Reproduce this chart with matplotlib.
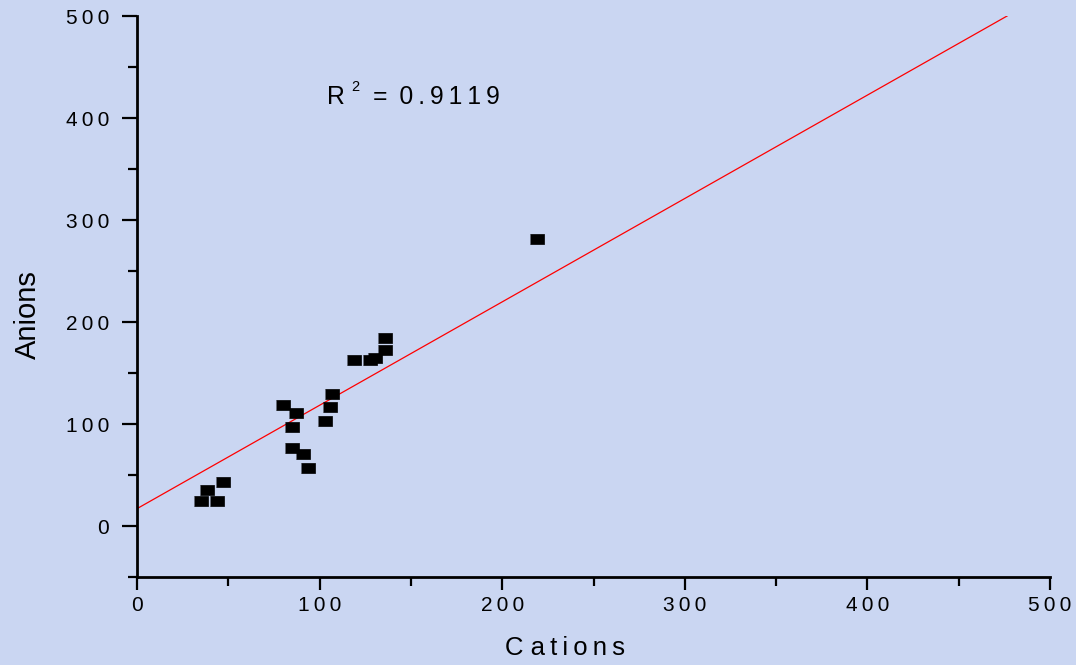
import numpy as np
import matplotlib
matplotlib.use("Agg")
import matplotlib.pyplot as plt
from matplotlib.ticker import MultipleLocator, FixedFormatter, FixedLocator
from matplotlib.transforms import offset_copy

# values
cations = [35.0, 38.2, 43.8, 46.9, 80.0, 86.9, 85.0, 85.0, 91.0, 93.8,
           103.0, 105.9, 106.9, 118.8, 127.6, 130.3, 135.8, 135.8, 218.9]
anions = [25.0, 35.5, 25.0, 43.0, 119.0, 111.0, 97.0, 76.0, 71.0, 57.0,
          103.0, 117.0, 129.0, 163.0, 163.0, 165.0, 184.8, 173.0, 281.0]

# regression line end points
fit_x = [0.0, 476.5]
fit_y = [17.0, 500.0]
r2 = 0.9119

x_ticks = [0, 100, 200, 300, 400, 500]
y_ticks = [0, 100, 200, 300, 400, 500]

bg = "#cad6f2"
font = ["Liberation Sans", "DejaVu Sans"]
plt.rcParams["font.family"] = font


def spaced(s, gap="\u2009"):
    """put a gap between every character, the reference uses wide letter spacing"""
    return gap.join(list(s))


fig = plt.figure(figsize=(10.76, 6.65), dpi=100, facecolor=bg)
ax = fig.add_axes([137 / 1076, 88 / 665, 913 / 1076, 561 / 665])
ax.set_facecolor(bg)

rect = [(-1, -0.77), (1, -0.77), (1, 0.77), (-1, 0.77)]
ax.plot(cations, anions, linestyle="none", marker=rect, markersize=10,
        color="black", markeredgewidth=0.5, zorder=3)
ax.plot(fit_x, fit_y, color="#ff0000", linewidth=0.9, zorder=2)

ax.set_xlim(0, 500)
ax.set_ylim(-50, 500)

for side in ["top", "right"]:
    ax.spines[side].set_visible(False)
for side in ["left", "bottom"]:
    ax.spines[side].set_linewidth(2.0)

ax.xaxis.set_major_locator(FixedLocator(x_ticks))
ax.xaxis.set_major_formatter(FixedFormatter([spaced(str(v)) for v in x_ticks]))
ax.yaxis.set_major_locator(FixedLocator(y_ticks))
ax.yaxis.set_major_formatter(FixedFormatter([spaced(str(v)) for v in y_ticks]))
ax.xaxis.set_minor_locator(MultipleLocator(50))
ax.yaxis.set_minor_locator(MultipleLocator(50))

ax.tick_params(axis="x", which="major", direction="out", length=9, width=1.6,
               pad=5, labelsize=15)
ax.tick_params(axis="y", which="major", direction="out", length=11, width=1.6,
               pad=9, labelsize=15)
ax.tick_params(axis="both", which="minor", direction="out", length=6.5, width=1.6)

ax.set_xlabel("C a\u2009t\u2009i\u2009o\u2009n\u2009s", fontsize=18.5)
ax.xaxis.set_label_coords(0.469, -0.105)
ax.set_ylabel("Anions", fontsize=21)
ax.yaxis.set_label_coords(-0.104, 0.467)

# R^2 annotation, pieces placed next to each other
x0, y0 = 104, 414
ax.text(x0, y0, "R", fontsize=17.8, ha="left", va="baseline")
t2 = offset_copy(ax.transData, fig=fig, x=24 * 0.72, y=13 * 0.72, units="points")
ax.text(x0, y0, "2", fontsize=10.5, ha="left", va="baseline", transform=t2)
t3 = offset_copy(ax.transData, fig=fig, x=46 * 0.72, y=0, units="points")
ax.text(x0, y0, "= \u2009" + "\u2009".join(list(f"{r2:.4f}")), fontsize=17.8,
        ha="left", va="baseline", transform=t3)

fig.savefig("out.png", dpi=100, facecolor=bg)
